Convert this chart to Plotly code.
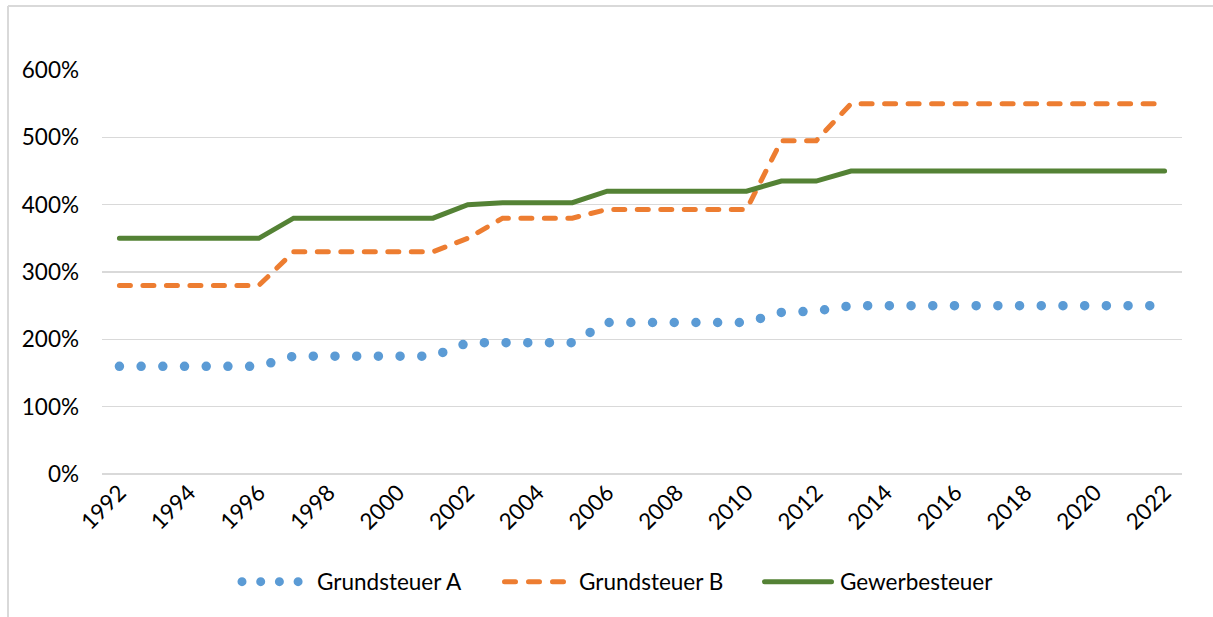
import plotly.graph_objects as go

years = list(range(1992, 2023))
grundsteuer_a = [160, 160, 160, 160, 160,
                 175, 175, 175, 175, 175,
                 195, 195, 195, 195,
                 225, 225, 225, 225, 225,
                 240, 242,
                 250, 250, 250, 250, 250, 250, 250, 250, 250, 250]
grundsteuer_b = [280, 280, 280, 280, 280,
                 330, 330, 330, 330, 330,
                 350, 380, 380, 380,
                 393, 393, 393, 393, 393,
                 495, 495,
                 550, 550, 550, 550, 550, 550, 550, 550, 550, 550]
gewerbesteuer = [350, 350, 350, 350, 350,
                 380, 380, 380, 380, 380,
                 400, 403, 403, 403,
                 420, 420, 420, 420, 420,
                 435, 435,
                 450, 450, 450, 450, 450, 450, 450, 450, 450, 450]
series_names = ["Grundsteuer A", "Grundsteuer B", "Gewerbesteuer"]
x_ticks = list(range(1992, 2023, 2))
y_ticks = [0, 100, 200, 300, 400, 500, 600]
y_tick_labels = [f"{v}%" for v in y_ticks]

FONT = "Lato, 'Open Sans', sans-serif"
FS = 22.5

# plot-area pixel bounds
L, R, T, B = 102, 1182, 70, 474
def px_x(p):
    return (p - L) / (R - L)
def px_y(p):
    return (B - p) / (B - T)

fig = go.Figure()
fig.add_trace(go.Scatter(x=years, y=grundsteuer_a, mode="lines", name=series_names[0],
                         line=dict(color="#5B9BD5", width=9.5, dash="0px,21.7px"),
                         legend="legend"))
fig.add_trace(go.Scatter(x=years, y=grundsteuer_b, mode="lines", name=series_names[1],
                         line=dict(color="#ED7D31", width=5, dash="11px,12.5px"),
                         legend="legend2"))
fig.add_trace(go.Scatter(x=years, y=gewerbesteuer, mode="lines", name=series_names[2],
                         line=dict(color="#548235", width=5),
                         legend="legend3"))

fig.add_shape(type="line", xref="paper", yref="paper",
              x0=px_x(8), x1=px_x(1215), y0=px_y(6), y1=px_y(6),
              line=dict(color="#D9D9D9", width=2))
fig.add_shape(type="line", xref="paper", yref="paper",
              x0=px_x(8), x1=px_x(8), y0=px_y(6), y1=px_y(620),
              line=dict(color="#D9D9D9", width=2))

def leg(text_x):
    return dict(orientation="h", x=px_x(text_x - 41), xanchor="left",
                y=px_y(582), yanchor="middle", font=dict(size=FS),
                bgcolor="rgba(0,0,0,0)")

fig.update_layout(
    width=1213, height=617,
    margin=dict(l=L, r=1213 - R, t=T, b=617 - B),
    paper_bgcolor="white", plot_bgcolor="white",
    font=dict(family=FONT, size=FS, color="#000000"),
    showlegend=True,
    legend=leg(318),
    legend2=leg(580),
    legend3=leg(841),
    hovermode=False,
)
fig.update_xaxes(range=[1991.5, 2022.5], tickvals=x_ticks, ticktext=[str(t) for t in x_ticks],
                 tickangle=-45, showgrid=False, zeroline=False, showline=False,
                 tickfont=dict(size=FS), ticks="", automargin=False)
fig.update_yaxes(range=[0, 600], tickvals=y_ticks, ticktext=y_tick_labels, showgrid=True,
                 gridcolor="#D9D9D9", gridwidth=1.5, zeroline=True, zerolinecolor="#D9D9D9",
                 zerolinewidth=1.5, showline=False, ticks="", ticklabelstandoff=22,
                 tickfont=dict(size=FS), automargin=False)

post = """
document.body.style.margin = '0';
document.body.style.padding = '0';
function fixCaps(){
  document.querySelectorAll('.scatterlayer .js-line').forEach(function(p){
    p.style.strokeLinecap = 'round';
  });
  document.querySelectorAll('.infolayer .scrollbox, .scrollbox').forEach(function(e){
    e.removeAttribute('clip-path');
  });
  document.querySelectorAll('.legendlines path').forEach(function(p){
    var s = (p.style.stroke || p.getAttribute('stroke') || '').toLowerCase();
    if (s.indexOf('91, 155, 213') >= 0 || s.indexOf('5b9bd5') >= 0) {
      p.setAttribute('d', 'M-35,0h56.5');
      p.style.strokeDasharray = '0px,18.7px';
      p.style.strokeWidth = '9px';
    } else if (s.indexOf('237, 125, 49') >= 0 || s.indexOf('ed7d31') >= 0) {
      p.setAttribute('d', 'M-34.5,0h59');
      p.style.strokeDasharray = '11px,13px';
    } else if (s.indexOf('84, 130, 53') >= 0 || s.indexOf('548235') >= 0) {
      p.setAttribute('d', 'M-35.5,0h67');
    }
    p.style.strokeLinecap = 'round';
  });
}
fixCaps();
setTimeout(fixCaps, 50);
setTimeout(fixCaps, 300);
var gd = document.getElementsByClassName('plotly-graph-div')[0];
if (gd && gd.on) { gd.on('plotly_afterplot', fixCaps); }
"""

fig.write_html("out.html", post_script=post, config={"displayModeBar": False, "staticPlot": True})
